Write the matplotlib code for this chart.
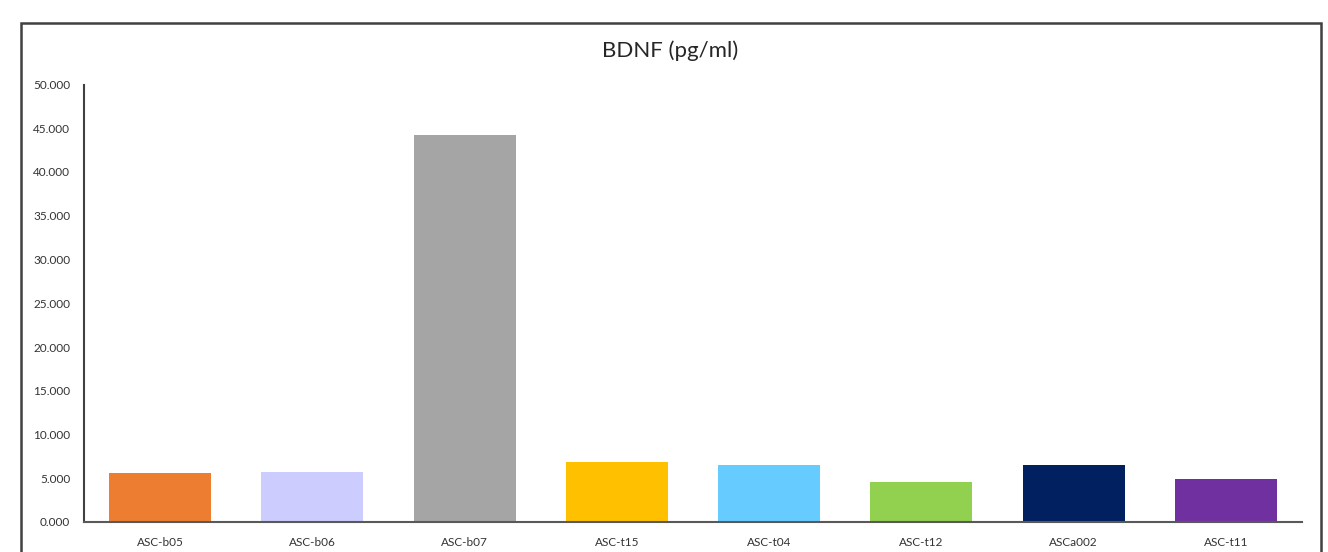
import matplotlib
matplotlib.use("Agg")
import matplotlib.pyplot as plt
from matplotlib.patches import Rectangle

categories = ["ASC-b05", "ASC-b06", "ASC-b07", "ASC-t15", "ASC-t04", "ASC-t12", "ASCa002", "ASC-t11"]
values = [5.56, 5.74, 44.26, 6.89, 6.47, 4.61, 6.47, 4.95]
colors = ["#ED7D31", "#CCCCFF", "#A5A5A5", "#FFC000", "#66CCFF", "#92D050", "#002060", "#7030A0"]
yticks = [0, 5, 10, 15, 20, 25, 30, 35, 40, 45, 50]

plt.rcParams['font.family'] = ['Lato', 'DejaVu Sans']

fig = plt.figure(figsize=(13.28, 5.52), dpi=100)
ax = fig.add_axes([84/1328, 1-522/552, (1302-84)/1328, (522-84.5)/552])

x = list(range(len(categories)))
ax.bar(x, values, width=0.67, color=colors, zorder=2)
ax.set_xlim(-0.5, len(categories)-0.5)
ax.set_ylim(0, 50)
ax.set_yticks(yticks)
ax.set_yticklabels([f"{v:.3f}" for v in yticks], fontsize=8.5, color="#333333")
ax.set_xticks(x)
ax.set_xticklabels(categories, fontsize=8.5, color="#333333")
ax.tick_params(axis='both', length=0)
ax.tick_params(axis='y', pad=10)
ax.tick_params(axis='x', pad=10.5)
for s in ["top", "right"]:
    ax.spines[s].set_visible(False)
ax.spines["left"].set_color("#404040")
ax.spines["left"].set_linewidth(1.5)
ax.spines["bottom"].set_color("#595959")
ax.spines["bottom"].set_linewidth(1.5)

fig.text(670/1328, 1-51/552, "BDNF (pg/ml)", ha="center", va="center", fontsize=16, color="#262626")

frame = Rectangle((21/1328, -0.2), (1321-21)/1328, 1-23/552+0.2, transform=fig.transFigure,
                  fill=False, edgecolor="#404040", linewidth=1.8, clip_on=False)
fig.patches.append(frame)

fig.savefig("out.png", dpi=100)
